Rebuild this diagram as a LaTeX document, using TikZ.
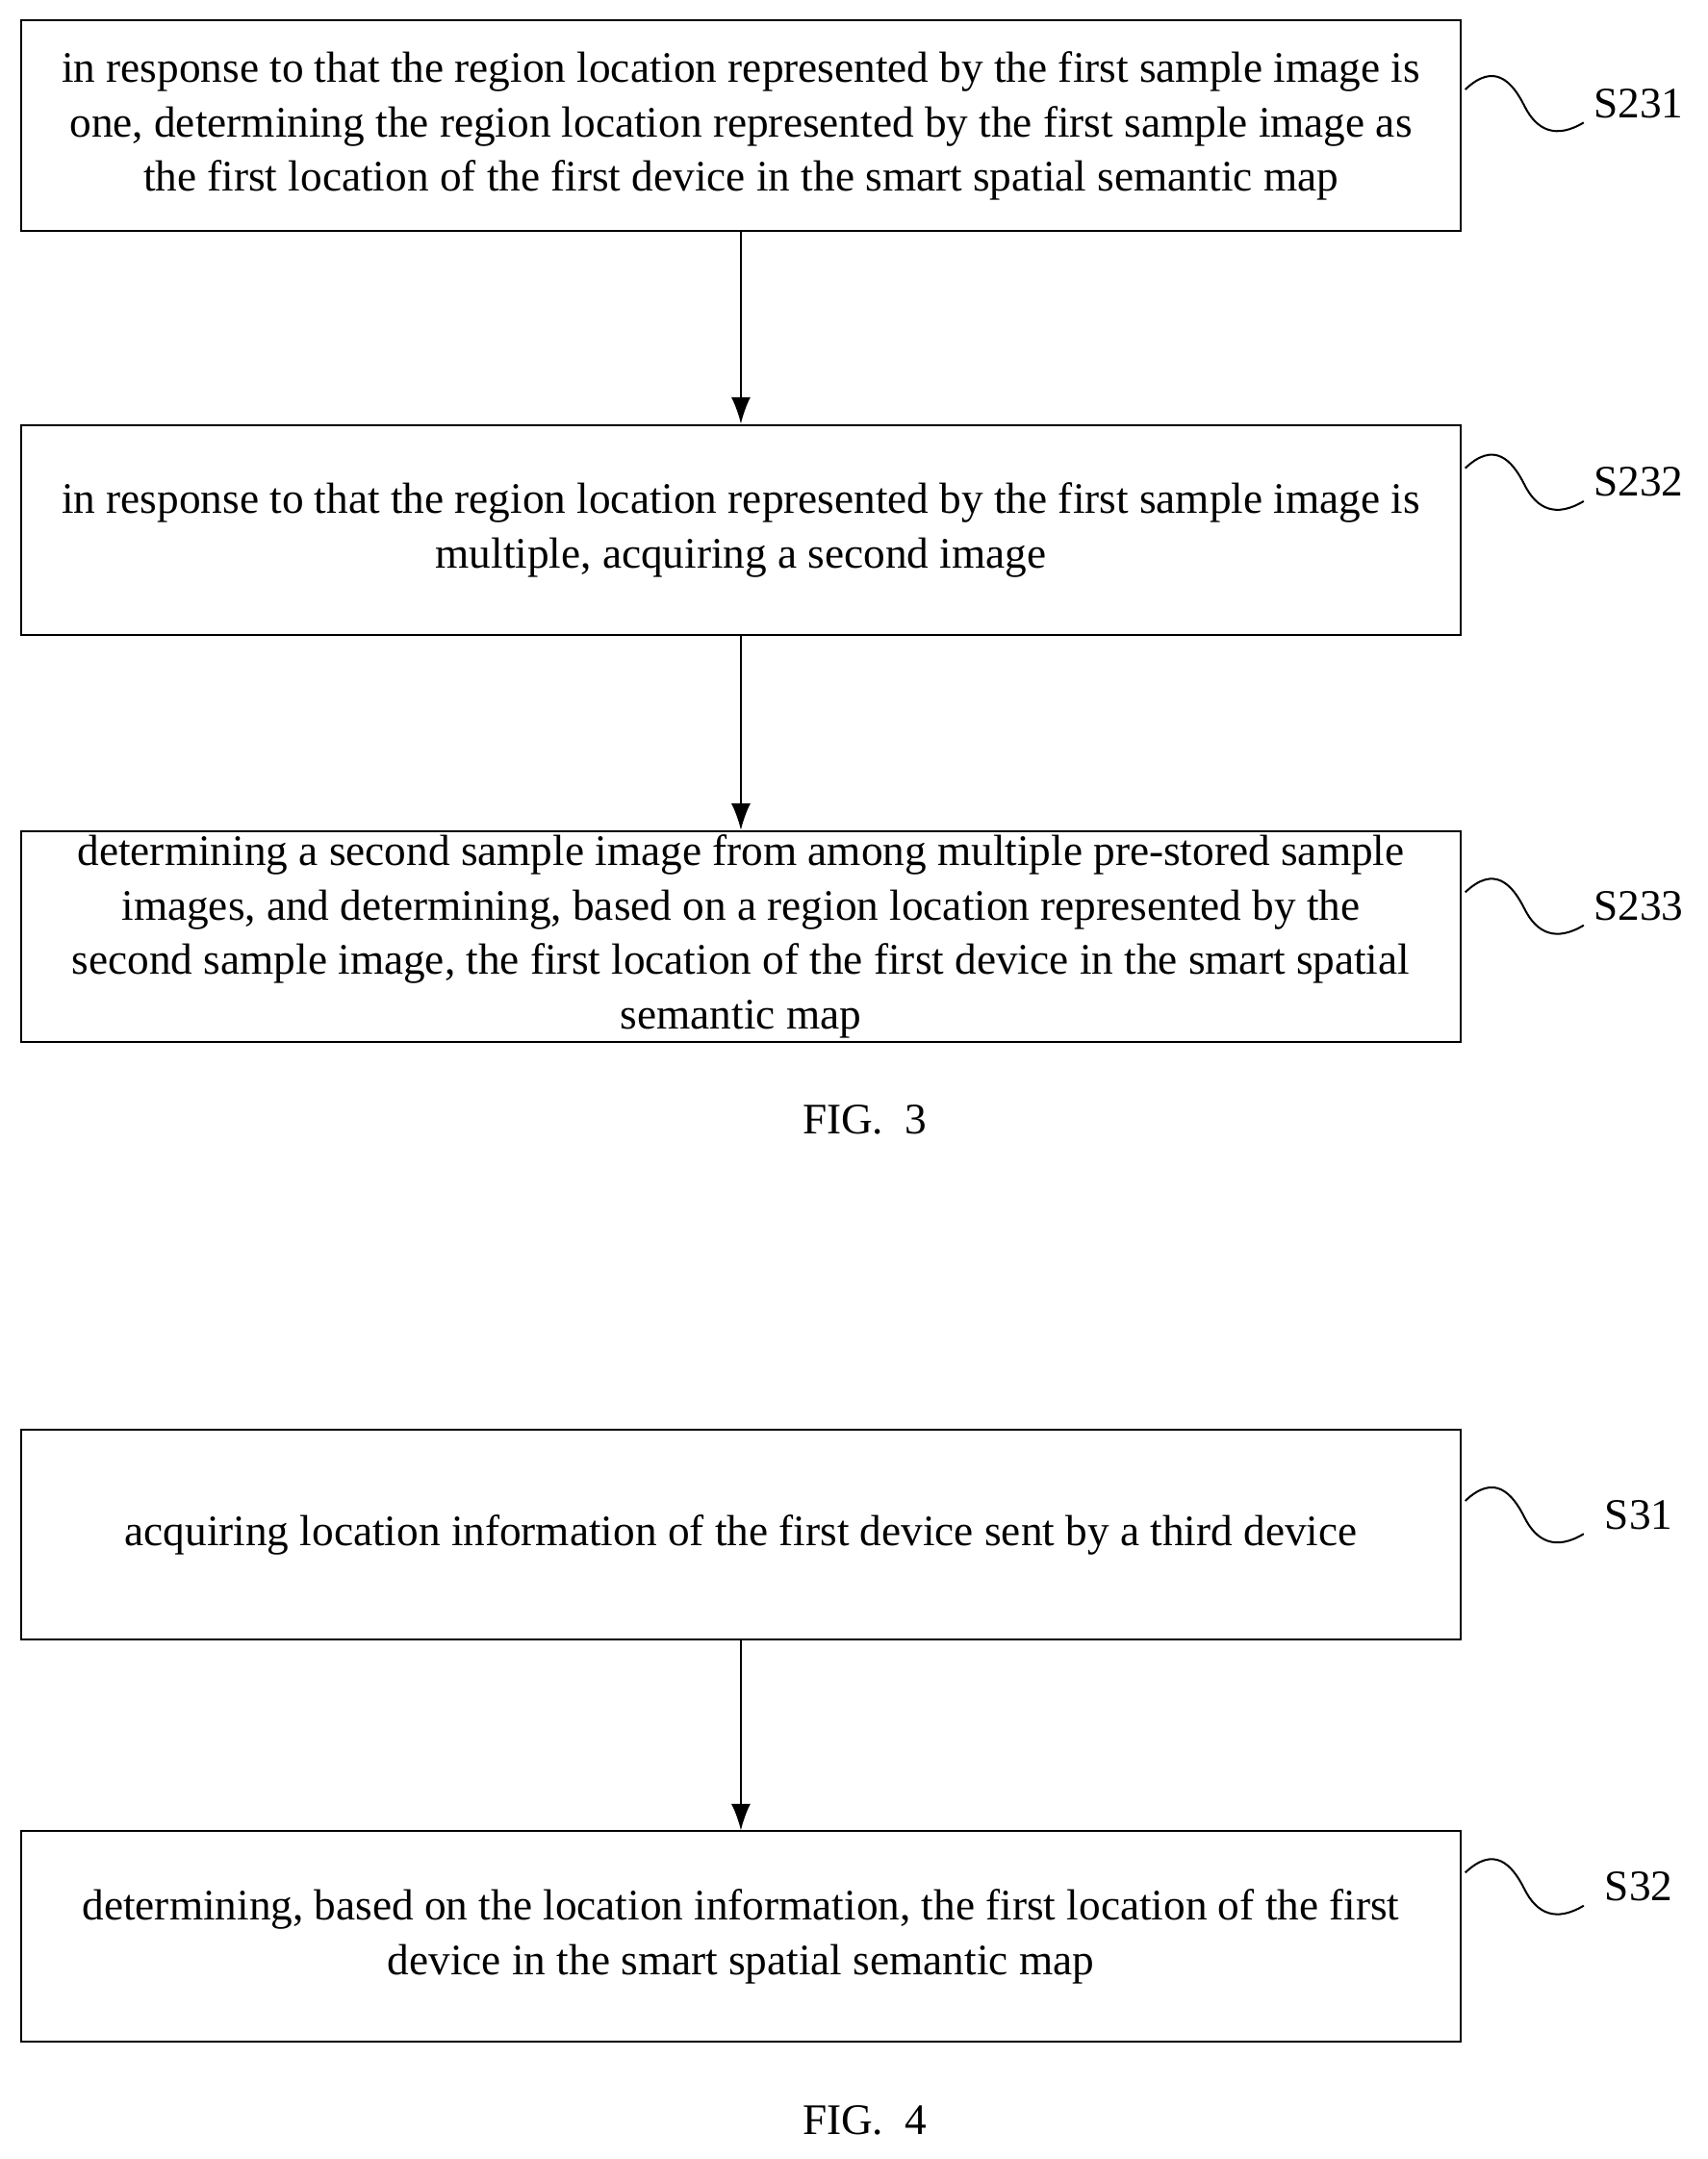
\documentclass[tikz,border=0pt]{standalone}
\usepackage{fontspec}
\setmainfont{Liberation Serif}
\usetikzlibrary{arrows.meta}
\begin{document}
\begin{tikzpicture}[x=0.02cm,y=-0.02cm,
 box/.style={draw,line width=0.8pt,minimum width=20.92cm,minimum height=3.06cm,align=center,inner sep=0pt,font=\fontsize{18}{22.5}\selectfont},
 arr/.style={-{Latex[length=11pt,width=8pt]},line width=0.8pt},
 lab/.style={font=\fontsize{18}{22}\selectfont},
 wave/.style={line width=0.8pt}]
\useasboundingbox (0,0) rectangle (1240,1568);
\node[box] (b1) at (538,91.5) {in response to that the region location represented by the first sample image is\\ one, determining the region location represented by the first sample image as\\ the first location of the first device in the smart spatial semantic map};
\node[box] (b2) at (538,385) {in response to that the region location represented by the first sample image is\\ multiple, acquiring a second image};
\node[box] (b3) at (538,680) {determining a second sample image from among multiple pre-stored sample\\ images, and determining, based on a region location represented by the\\ second sample image, the first location of the first device in the smart spatial\\ semantic map};
\node[box] (b4) at (538,1114.5) {acquiring location information of the first device sent by a third device};
\node[box] (b5) at (538,1406.5) {determining, based on the location information, the first location of the first\\ device in the smart spatial semantic map};
\draw[arr] (b1) -- (b2);
\draw[arr] (b2) -- (b3);
\draw[arr] (b4) -- (b5);
\node[lab] (f3) at (628,813) {FIG.\ \ 3};
\node[lab] (f4) at (628,1540) {FIG.\ \ 4};
\foreach \n/\t/\yy/\lx in {1/S231/75/1190,2/S232/350/1190,3/S233/658/1190,4/S31/1100/1190,5/S32/1370/1190}{
 \coordinate (w\n a) at (1064,\yy-10);
 \coordinate (w\n b) at (1150,\yy+14);
 \draw[wave] (w\n a) .. controls (1085,\yy-30) and (1098,\yy-16) .. (1107,\yy+2) .. controls (1116,\yy+20) and (1130,\yy+26) .. (w\n b);
 \node[lab] (l\n) at (\lx,\yy) {\t};
}
\end{tikzpicture}
\end{document}
